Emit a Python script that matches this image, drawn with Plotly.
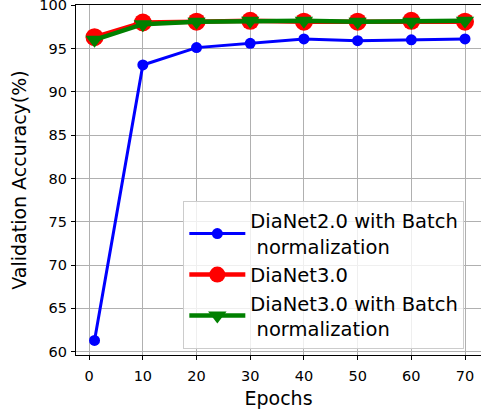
import plotly.graph_objects as go

# Validation accuracy per epoch for three network variants
epochs = [1, 10, 20, 30, 40, 50, 60, 70]
dianet2_bn = [61.3, 93.1, 95.1, 95.6, 96.1, 95.9, 96.0, 96.1]
dianet3 = [96.3, 98.0, 98.1, 98.2, 98.1, 98.1, 98.2, 98.1]
dianet3_bn = [96.0, 97.8, 98.1, 98.2, 98.2, 98.1, 98.1, 98.2]

y_ticks = [60, 65, 70, 75, 80, 85, 90, 95, 100]
x_ticks = [0, 10, 20, 30, 40, 50, 60, 70]

FONT = "DejaVu Sans"

fig = go.Figure()
fig.add_trace(go.Scatter(
    x=epochs, y=dianet2_bn, mode="lines+markers",
    name="DiaNet2.0 with Batch<br> normalization",
    line=dict(color="#0000ff", width=3),
    marker=dict(symbol="circle", size=11, color="#0000ff"),
))
fig.add_trace(go.Scatter(
    x=epochs, y=dianet3, mode="lines+markers",
    name="DiaNet3.0",
    line=dict(color="#ff0000", width=4.5),
    marker=dict(symbol="circle", size=18, color="#ff0000"),
))
fig.add_trace(go.Scatter(
    x=epochs, y=dianet3_bn, mode="lines+markers",
    name="DiaNet3.0 with Batch<br> normalization",
    line=dict(color="#008000", width=4.5),
    marker=dict(symbol="triangle-down", size=16, color="#008000"),
))

axis_common = dict(
    showgrid=True, gridcolor="#b0b0b0", gridwidth=1,
    showline=True, linecolor="black", linewidth=1.3,
    ticks="outside", ticklen=4, tickcolor="black", tickwidth=1,
    tickfont=dict(family=FONT, size=14.5, color="black"),
    ticklabeloverflow="allow",
    automargin=False,
    zeroline=False,
)

fig.update_layout(
    width=481, height=414,
    margin=dict(l=76, r=0, t=5, b=59),
    paper_bgcolor="white", plot_bgcolor="white",
    font=dict(family=FONT, color="black"),
    xaxis=dict(
        range=[-2.45, 72.98], tickvals=x_ticks, mirror=True,
        ticklabelstandoff=3,
        title=dict(text="Epochs", font=dict(family=FONT, size=19), standoff=9),
        **axis_common,
    ),
    yaxis=dict(
        range=[59.62, 100.02], tickvals=y_ticks, mirror=False,
        ticklabelstandoff=1,
        title=dict(text="Validation Accuracy(%)", font=dict(family=FONT, size=19), standoff=7),
        **axis_common,
    ),
    legend=dict(
        x=0.265, y=0.018, xanchor="left", yanchor="bottom",
        bgcolor="rgba(255,255,255,0.8)", bordercolor="#cccccc", borderwidth=1,
        font=dict(family=FONT, size=19.5, color="black"),
        tracegroupgap=0, itemwidth=56,
    ),
    showlegend=True,
)

fig.write_html("out.html")
